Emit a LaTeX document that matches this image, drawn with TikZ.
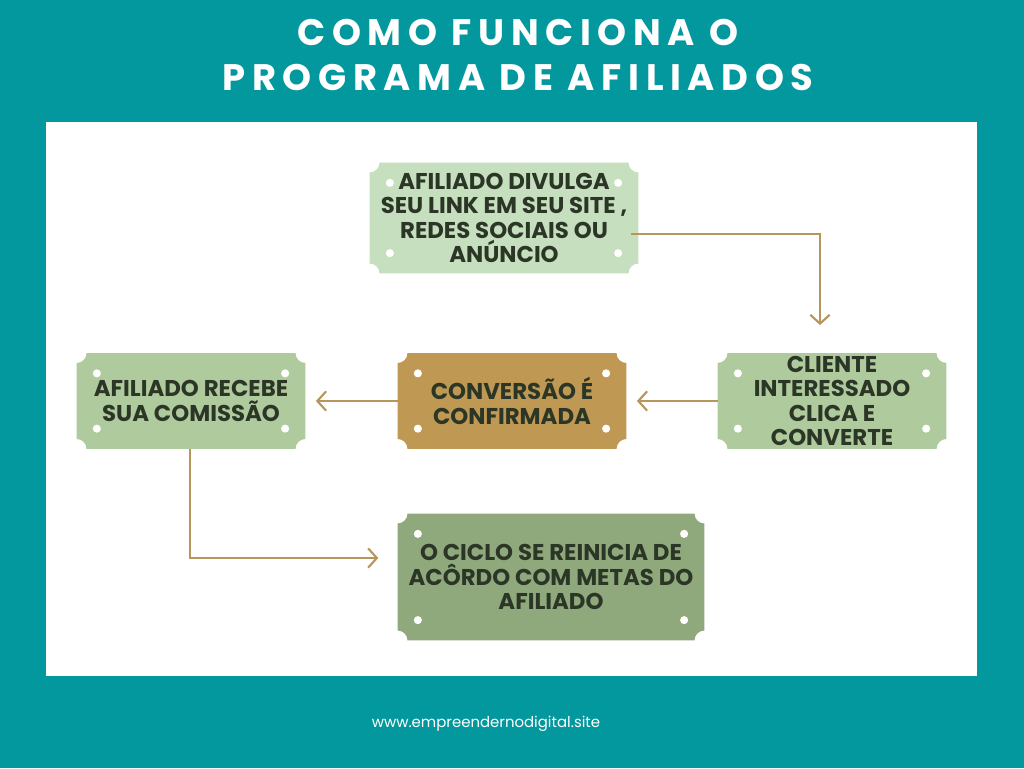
\documentclass[tikz,border=0pt]{standalone}
\usepackage{fontspec}
\setmainfont{Poppins}
\usetikzlibrary{arrows.meta,positioning,backgrounds}
\definecolor{teal}{HTML}{03989E}
\definecolor{pale}{HTML}{C6DFBE}
\definecolor{sage}{HTML}{AFCB9E}
\definecolor{ochre}{HTML}{BF9853}
\definecolor{moss}{HTML}{8FA97D}
\definecolor{ink}{HTML}{2B3626}
\definecolor{wire}{HTML}{B8955A}
\newcommand\ticketbox[2]{%
  \fill[#2] ([xshift=5.6pt]#1.north west) -- ([xshift=-5.6pt]#1.north east)
    arc[start angle=180,end angle=270,radius=5.6pt] -- ([yshift=5.6pt]#1.south east)
    arc[start angle=90,end angle=180,radius=5.6pt] -- ([xshift=5.6pt]#1.south west)
    arc[start angle=0,end angle=90,radius=5.6pt] -- ([yshift=-5.6pt]#1.north west)
    arc[start angle=270,end angle=360,radius=5.6pt] -- cycle;
  \foreach \dx/\dy/\a in {11.5/-11.5/north west,-11.5/-11.5/north east,11.5/11.5/south west,-11.5/11.5/south east}
    \fill[white] ([xshift=\dx,yshift=\dy]#1.\a) circle[radius=2.3pt];}
\tikzset{
  ticket/.style={inner sep=0pt,text=ink,align=center,
    font=\bfseries\fontsize{13pt}{13.8pt}\selectfont},
  link/.style={wire,line width=1.2pt,-{Straight Barb[length=5pt,width=11pt]}}
}
\begin{document}
\begin{tikzpicture}[x=0.02cm,y=-0.02cm]
\useasboundingbox (0,0) rectangle (1024,768);
\node[white,align=center,font=\bfseries\fontsize{21pt}{25.5pt}\selectfont\addfontfeatures{LetterSpace=18}] (title) at (518,55) {COMO FUNCIONA O\\PROGRAMA DE AFILIADOS};
\node (divulga) [ticket,minimum width=268*0.02cm,minimum height=110*0.02cm] at (504,218) {AFILIADO DIVULGA\\SEU LINK EM SEU SITE ,\\REDES SOCIAIS OU\\ANÚNCIO};
\node (cliente) [ticket,minimum width=228*0.02cm,minimum height=95*0.02cm] at (832,401) {CLIENTE\\INTERESSADO\\CLICA E\\CONVERTE};
\node (conversao) [ticket,minimum width=228*0.02cm,minimum height=95*0.02cm] at (512,401) {CONVERSÃO É\\CONFIRMADA};
\node (recebe) [ticket,minimum width=228*0.02cm,minimum height=95*0.02cm] at (191,401) {AFILIADO RECEBE\\SUA COMISSÃO};
\node (ciclo) [ticket,minimum width=306*0.02cm,minimum height=126*0.02cm] at (551,577) {O CICLO SE REINICIA DE\\ACÔRDO COM METAS DO\\AFILIADO};
\node[white,font=\fontsize{8.5pt}{10pt}\selectfont] (site) at (486,724) {www.empreendernodigital.site};
\coordinate (c1) at (820,234);
\coordinate (c2) at (190,558);
\begin{pgfonlayer}{background}
\fill[teal] (0,0) rectangle (1024,768);
\fill[white] (46,122) rectangle (977,676);
\ticketbox{divulga}{pale}
\ticketbox{cliente}{sage}
\ticketbox{conversao}{ochre}
\ticketbox{recebe}{sage}
\ticketbox{ciclo}{moss}
\end{pgfonlayer}
\draw[link] ([xshift=-4pt]divulga.east |- c1) -- (c1) -- ([yshift=16pt]cliente.north -| c1);
\draw[link] (cliente.west) -- ([xshift=6pt]conversao.east);
\draw[link] (conversao.west) -- ([xshift=6pt]recebe.east);
\draw[link] (recebe.south -| c2) -- (c2) -- ([xshift=-11pt]ciclo.west |- c2);
\end{tikzpicture}
\end{document}
